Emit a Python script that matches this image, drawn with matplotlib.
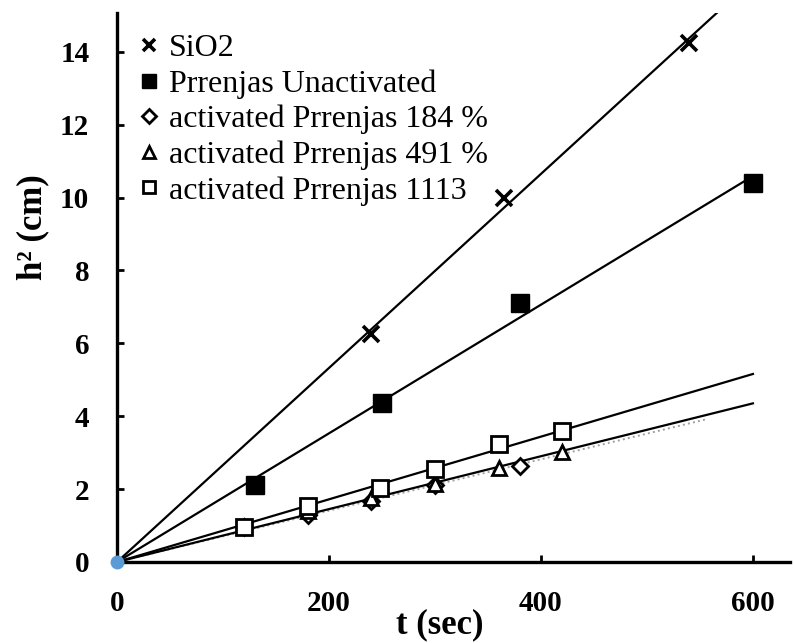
import numpy as np
import matplotlib
matplotlib.use("Agg")
from matplotlib import pyplot as plt

# data (t in sec, h^2 in cm)
SIO2_T = [240, 365, 540]
SIO2_H = [6.25, 10.0, 14.25]

UNACT_T = [130, 250, 380, 600]
UNACT_H = [2.1, 4.35, 7.12, 10.4]

ACT184_T = [120, 180, 240, 300, 380]
ACT184_H = [0.95, 1.3, 1.68, 2.12, 2.63]

ACT491_T = [120, 180, 240, 300, 360, 420]
ACT491_H = [0.97, 1.4, 1.75, 2.15, 2.58, 3.02]

ACT1113_T = [120, 180, 248, 300, 360, 420]
ACT1113_H = [0.95, 1.55, 2.02, 2.56, 3.23, 3.6]

LABELS = ['SiO2', 'Prrenjas Unactivated', 'activated Prrenjas 184 %',
          'activated Prrenjas 491 %', 'activated Prrenjas 1113']

X_TICKS = [0, 200, 400, 600]
Y_TICKS = [0, 2, 4, 6, 8, 10, 12, 14]

SERIF = 'Liberation Serif'


def slope_through_origin(t, h):
    t = np.asarray(t, float)
    h = np.asarray(h, float)
    return (t * h).sum() / (t * t).sum()


if __name__ == "__main__":
    plt.rcParams['font.family'] = SERIF

    fig = plt.figure(figsize=(7.94, 6.43), dpi=100)
    ax = fig.add_axes([0.1474, 0.126, 0.8476, 0.854])

    # trendlines, forced through the origin (excel style)
    trends = [(SIO2_T, SIO2_H, 600, 'black', '-', 1.6),
              (UNACT_T, UNACT_H, 600, 'black', '-', 1.6),
              (ACT184_T, ACT184_H, 557, '#a0a0a0', ':', 1.4),
              (ACT491_T, ACT491_H, 600, 'black', '-', 1.6),
              (ACT1113_T, ACT1113_H, 600, 'black', '-', 1.6)]
    for t, h, t_end, col, ls, lw in trends:
        k = slope_through_origin(t, h)
        tt = np.array([0, t_end])
        ax.plot(tt, k * tt, color=col, linestyle=ls, linewidth=lw, zorder=2)

    ax.plot(SIO2_T, SIO2_H, linestyle='none', marker='x', ms=11, mew=2.6,
            color='black', label=LABELS[0], zorder=3)
    ax.plot(UNACT_T, UNACT_H, linestyle='none', marker='s', ms=12.5,
            color='black', label=LABELS[1], zorder=3)
    ax.plot(ACT184_T, ACT184_H, linestyle='none', marker='D', ms=8.5,
            mew=2.0, mfc='white', mec='black', label=LABELS[2], zorder=3)
    ax.plot(ACT491_T, ACT491_H, linestyle='none', marker='^', ms=10.5,
            mew=2.0, mfc='white', mec='black', label=LABELS[3], zorder=3)
    ax.plot(ACT1113_T, ACT1113_H, linestyle='none', marker='s', ms=11.5,
            mew=2.0, mfc='white', mec='black', label=LABELS[4], zorder=3)

    # blue origin point
    ax.plot([0], [0], linestyle='none', marker='o', ms=9, color='#5B9BD5',
            clip_on=False, zorder=5)

    ax.set_xlim(0, 635)
    ax.set_ylim(0, 15.07)
    ax.set_xticks(X_TICKS)
    ax.set_yticks(Y_TICKS)

    for side in ['top', 'right']:
        ax.spines[side].set_visible(False)
    for side in ['left', 'bottom']:
        ax.spines[side].set_linewidth(2.4)

    ax.tick_params(axis='both', direction='in', length=5, width=2,
                   labelsize=21)
    ax.tick_params(axis='y', pad=20)
    ax.tick_params(axis='x', pad=20)
    for lab in ax.get_xticklabels() + ax.get_yticklabels():
        lab.set_fontweight('bold')

    ax.set_xlabel('t (sec)', fontsize=25, fontweight='bold', labelpad=0)
    ax.xaxis.set_label_coords(0.48, -0.085)
    ax.set_ylabel('h\u00b2 (cm)', fontsize=25, fontweight='bold')
    ax.yaxis.set_label_coords(-0.10, 0.61)

    leg = ax.legend(loc='upper left', bbox_to_anchor=(0.015, 0.985),
                    frameon=False, fontsize=23, handlelength=0.6,
                    handletextpad=0.3, labelspacing=0.19, markerscale=0.8,
                    borderaxespad=0.0)

    fig.savefig('out.png', dpi=100)
